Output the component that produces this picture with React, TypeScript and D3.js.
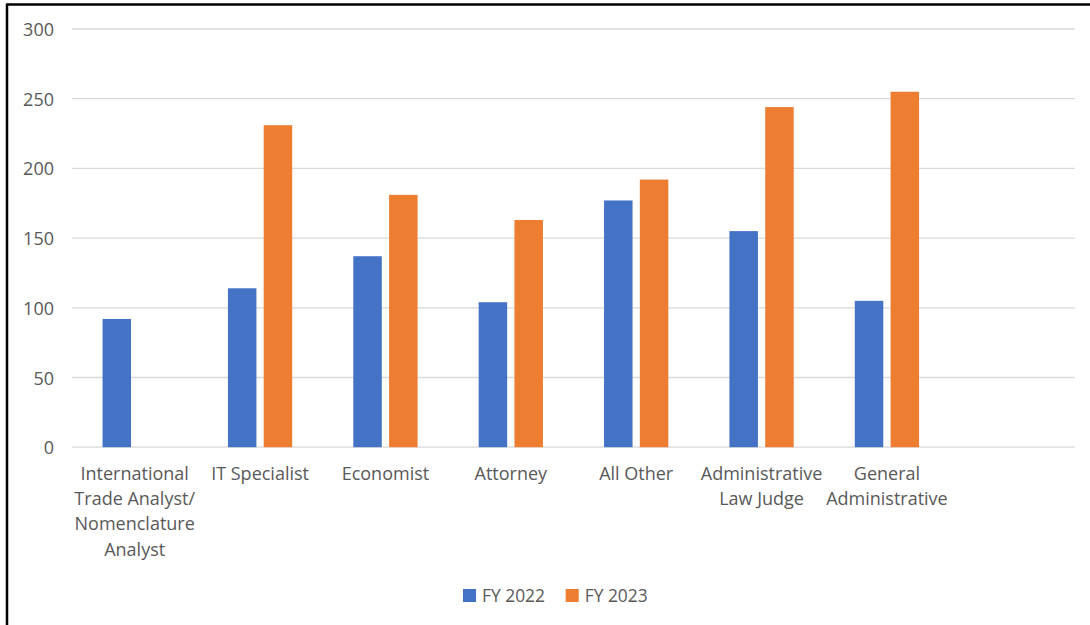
import React from "react";
import * as d3 from "d3";

const categories: string[] = [
  "International\nTrade Analyst/\nNomenclature\nAnalyst",
  "IT Specialist",
  "Economist",
  "Attorney",
  "All Other",
  "Administrative\nLaw Judge",
  "General\nAdministrative",
  "",
];
const seriesNames: string[] = ["FY 2022", "FY 2023"];
const fy2022: (number | null)[] = [92, 114, 137, 104, 177, 155, 105, null];
const fy2023: (number | null)[] = [null, 231, 181, 163, 192, 244, 255, null];
const yTicks: number[] = [0, 50, 100, 150, 200, 250, 300];

const colors = ["#4472C4", "#ED7D31"];
const W = 1090;
const H = 625;
const FONT = "'Open Sans', sans-serif";
const TEXT = "#595959";

export default function App() {
  const x = d3.scaleBand<number>().domain(d3.range(categories.length)).range([72, 1075]).paddingInner(0).paddingOuter(0);
  const y = d3.scaleLinear().domain([0, 300]).range([447.2, 29]);
  const band = x.bandwidth();
  const barW = band / 4.4;
  const innerGap = barW * 0.256;
  const groupW = barW * 2 + innerGap;
  const series = [fy2022, fy2023];

  return (
    <svg width={W} height={H} style={{ position: "absolute", left: 0, top: 0, background: "#fff" }}>
      <rect x={0} y={0} width={W} height={H} fill="#fff" />
      {/* outer border (top & left visible) */}
      <line x1={7} y1={4.5} x2={W} y2={4.5} stroke="#000" strokeWidth={2.5} />
      <line x1={7} y1={3.5} x2={7} y2={H} stroke="#000" strokeWidth={2.5} />
      {/* gridlines */}
      {yTicks.map((t) => (
        <line key={t} x1={72} x2={1075} y1={y(t)} y2={y(t)} stroke="#D9D9D9" strokeWidth={1.3} />
      ))}
      {/* y tick labels */}
      {yTicks.map((t) => (
        <text key={"l" + t} x={54} y={y(t)} dominantBaseline="central" textAnchor="end" fontFamily={FONT} fontSize={18} fill={TEXT}>
          {t}
        </text>
      ))}
      {/* bars */}
      {series.map((s, si) =>
        s.map((v, i) => {
          if (v == null) return null;
          const x0 = (x(i) as number) + (band - groupW) / 2 + si * (barW + innerGap);
          return <rect key={si + "-" + i} x={x0} y={y(v)} width={barW} height={y(0) - y(v)} fill={colors[si]} />;
        })
      )}
      {/* category labels */}
      {categories.map((c, i) => {
        const cx = (x(i) as number) + band / 2;
        return (
          <text key={"c" + i} textAnchor="middle" fontFamily={FONT} fontSize={18} fill={TEXT}>
            {c.split("\n").map((line, li) => (
              <tspan key={li} x={cx} y={472.8 + li * 25.3} dominantBaseline="central">
                {line}
              </tspan>
            ))}
          </text>
        );
      })}
      {/* legend */}
      {seriesNames.map((n, si) => {
        const lx = 463 + si * 102.7;
        return (
          <g key={n}>
            <rect x={lx} y={589} width={13} height={13} fill={colors[si]} />
            <text x={lx + 19} y={595} dominantBaseline="central" fontFamily={FONT} fontSize={17.4} fill={TEXT}>
              {n}
            </text>
          </g>
        );
      })}
    </svg>
  );
}
